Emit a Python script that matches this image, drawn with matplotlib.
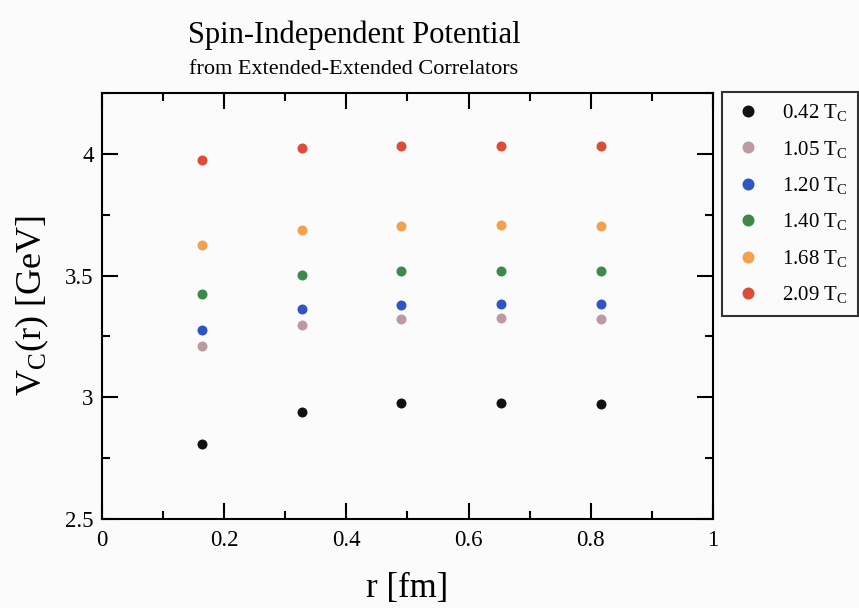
import matplotlib
matplotlib.use('Agg')
import matplotlib.pyplot as plt
from matplotlib.ticker import MultipleLocator

plt.rcParams['font.family'] = ['Liberation Serif', 'DejaVu Serif']
plt.rcParams['mathtext.fontset'] = 'custom'
plt.rcParams['mathtext.rm'] = 'Liberation Serif'
plt.rcParams['mathtext.it'] = 'Liberation Serif:italic'

# separation r in fm
r_fm = [0.163, 0.327, 0.490, 0.653, 0.817]

temperatures = ['0.42', '1.05', '1.20', '1.40', '1.68', '2.09']
v_042 = [2.807, 2.941, 2.975, 2.975, 2.972]
v_105 = [3.209, 3.298, 3.322, 3.325, 3.322]
v_120 = [3.275, 3.363, 3.381, 3.385, 3.382]
v_140 = [3.424, 3.501, 3.519, 3.520, 3.520]
v_168 = [3.625, 3.687, 3.703, 3.706, 3.703]
v_209 = [3.976, 4.023, 4.033, 4.034, 4.033]
series = [v_042, v_105, v_120, v_140, v_168, v_209]

colors = ['#111111', '#bd9aa0', '#2f55c2', '#3b8a4a', '#f2a24e', '#dc4c38']

def main():

    fig = plt.figure(figsize=(8.59, 6.08), dpi=100, facecolor='#fbfbfb')
    ax = fig.add_axes([0.1187, 0.1464, 0.7113, 0.7006])
    ax.set_facecolor('#fbfbfb')

    for temp, vals, col in zip(temperatures, series, colors):
        ax.plot(r_fm, vals, 'o', color=col, markersize=7.2, markeredgewidth=0,
                label=temp + r' T$_{\mathrm{C}}$', clip_on=False)

    ax.set_xlim(0, 1)
    ax.set_ylim(2.5, 4.25)
    ax.xaxis.set_minor_locator(MultipleLocator(0.1))
    ax.yaxis.set_minor_locator(MultipleLocator(0.25))
    ax.set_xticks([0, 0.2, 0.4, 0.6, 0.8, 1])
    ax.set_xticklabels(['0', '0.2', '0.4', '0.6', '0.8', '1'])
    ax.set_yticks([2.5, 3, 3.5, 4])
    ax.set_yticklabels(['2.5', '3', '3.5', '4'])

    ax.tick_params(which='both', direction='in', top=True, right=True,
                   width=1.5, labelsize=16.5)
    ax.tick_params(axis='x', pad=8)
    ax.tick_params(axis='y', pad=6)
    ax.tick_params(which='major', length=11.5)
    ax.tick_params(which='minor', length=5.5)
    for sp in ax.spines.values():
        sp.set_linewidth(1.5)

    ax.set_xlabel('r [fm]', fontsize=25, labelpad=15)
    ax.set_ylabel(r'V$_{\mathrm{C}}$(r) [GeV]', fontsize=26, labelpad=10)

    fig.text(0.412, 0.942, 'Spin-Independent Potential', ha='center', va='center', fontsize=22)
    fig.text(0.412, 0.885, 'from Extended-Extended Correlators', ha='center', va='center', fontsize=16)

    leg = ax.legend(loc='upper left', bbox_to_anchor=(0.840, 0.849),
                    bbox_transform=fig.transFigure, fontsize=15, frameon=True,
                    fancybox=False, handletextpad=0.9, labelspacing=0.74,
                    borderpad=0.5, handlelength=1.5, borderaxespad=0,
                    markerscale=1.2)
    leg.get_frame().set_edgecolor('black')
    leg.get_frame().set_linewidth(1.5)
    leg.get_frame().set_facecolor('#fbfbfb')

    fig.savefig('out.png', dpi=100, facecolor=fig.get_facecolor())

if __name__ == '__main__':

    main()
